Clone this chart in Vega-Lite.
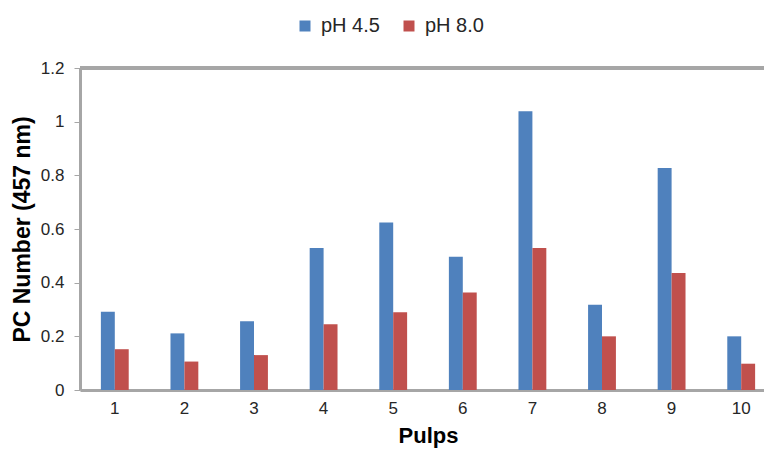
{
  "$schema": "https://vega.github.io/schema/vega-lite/v6.json",
  "width": 684,
  "height": 322,
  "autosize": {"type": "none"},
  "padding": {"left": 80, "top": 68, "right": 0, "bottom": 63},
  "background": "white",
  "config": {
    "view": {"stroke": null},
    "font": "Liberation Sans",
    "axis": {"grid": false, "labelFont": "Liberation Sans", "titleFont": "Liberation Sans"}
  },
  "data": {
    "values": [
      {"Pulp": 1, "pH": "pH 4.5", "PC": 0.292}, {"Pulp": 1, "pH": "pH 8.0", "PC": 0.152},
      {"Pulp": 2, "pH": "pH 4.5", "PC": 0.211}, {"Pulp": 2, "pH": "pH 8.0", "PC": 0.106},
      {"Pulp": 3, "pH": "pH 4.5", "PC": 0.256}, {"Pulp": 3, "pH": "pH 8.0", "PC": 0.130},
      {"Pulp": 4, "pH": "pH 4.5", "PC": 0.529}, {"Pulp": 4, "pH": "pH 8.0", "PC": 0.245},
      {"Pulp": 5, "pH": "pH 4.5", "PC": 0.624}, {"Pulp": 5, "pH": "pH 8.0", "PC": 0.290},
      {"Pulp": 6, "pH": "pH 4.5", "PC": 0.497}, {"Pulp": 6, "pH": "pH 8.0", "PC": 0.363},
      {"Pulp": 7, "pH": "pH 4.5", "PC": 1.039}, {"Pulp": 7, "pH": "pH 8.0", "PC": 0.529},
      {"Pulp": 8, "pH": "pH 4.5", "PC": 0.318}, {"Pulp": 8, "pH": "pH 8.0", "PC": 0.200},
      {"Pulp": 9, "pH": "pH 4.5", "PC": 0.827}, {"Pulp": 9, "pH": "pH 8.0", "PC": 0.436},
      {"Pulp": 10, "pH": "pH 4.5", "PC": 0.200}, {"Pulp": 10, "pH": "pH 8.0", "PC": 0.098}
    ]
  },
  "layer": [
    {
      "mark": {"type": "bar"},
      "encoding": {
        "x": {
          "field": "Pulp",
          "type": "ordinal",
          "scale": {"range": [0, 696], "paddingInner": 0.6, "paddingOuter": 0.3},
          "axis": {
            "title": "Pulps",
            "labelAngle": 0,
            "labelFontSize": 17,
            "labelColor": "#262626",
            "labelPadding": 10,
            "ticks": false,
            "domainColor": "#A6A6A6",
            "domainWidth": 3,
            "titleFontSize": 22,
            "titleFontWeight": "bold",
            "titleColor": "#000000",
            "titlePadding": 9
          }
        },
        "xOffset": {"field": "pH", "type": "nominal"},
        "y": {
          "field": "PC",
          "type": "quantitative",
          "scale": {"domain": [0, 1.2], "nice": false},
          "axis": {
            "title": "PC Number (457 nm)",
            "values": [0, 0.2, 0.4, 0.6, 0.8, 1, 1.2],
            "format": "~g",
            "labelFontSize": 17,
            "labelColor": "#262626",
            "labelPadding": 10,
            "tickSize": 6,
            "tickColor": "#A6A6A6",
            "domainColor": "#A6A6A6",
            "domainWidth": 3,
            "titleFontSize": 23,
            "titleFontWeight": "bold",
            "titleColor": "#000000",
            "titlePadding": 6
          }
        },
        "color": {
          "field": "pH",
          "type": "nominal",
          "scale": {"domain": ["pH 4.5", "pH 8.0"], "range": ["#4F81BD", "#C0504D"]},
          "legend": {
            "title": null,
            "orient": "none",
            "legendX": 215,
            "legendY": -52,
            "direction": "horizontal",
            "symbolType": "square",
            "symbolSize": 121,
            "symbolStrokeWidth": 0,
            "labelFontSize": 20,
            "labelColor": "#262626",
            "labelOffset": 6,
            "columnPadding": 19,
            "padding": 0
          }
        }
      }
    },
    {
      "mark": {"type": "rule", "color": "#A6A6A6", "strokeWidth": 3},
      "encoding": {"y": {"datum": 1.2}}
    }
  ]
}
